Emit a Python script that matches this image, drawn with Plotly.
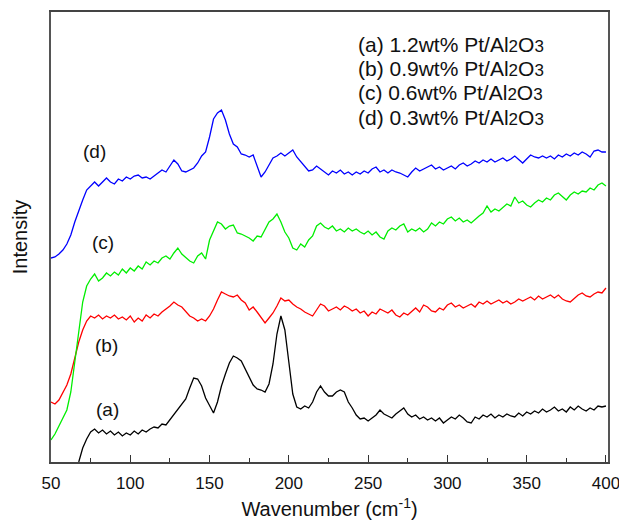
import numpy as np
import plotly.graph_objects as go

# Wavenumber sampling grid (cm^-1)
wavenumber = np.arange(50, 400.01, 2.5)

# (a) 1.2wt% Pt/Al2O3 - black
intensity_a = [-80, -70, -60, -48, -35, -22, -10, 0, 14, 23,
               30, 33, 29, 32, 28, 31, 27, 30, 26, 29,
               27, 31, 28, 32, 30, 33, 35, 34, 38, 37,
               42, 48, 52, 58, 63, 74, 84, 83, 76, 64,
               56, 49, 60, 76, 88, 99, 106, 104, 101, 93,
               85, 77, 73, 72, 70, 78, 98, 128, 146, 132,
               100, 68, 55, 53, 56, 54, 60, 70, 76, 70,
               66, 66, 70, 72, 70, 60, 54, 47, 43, 44,
               41, 44, 47, 52, 48, 46, 44, 48, 51, 54,
               48, 45, 47, 43, 45, 42, 44, 41, 44, 39,
               42, 45, 43, 47, 44, 40, 39, 45, 43, 47,
               45, 48, 44, 47, 45, 48, 46, 45, 49, 46,
               50, 48, 51, 49, 53, 50, 52, 55, 51, 53,
               50, 55, 52, 56, 53, 51, 54, 52, 56, 55, 56]

# (b) 0.9wt% Pt/Al2O3 - red
intensity_b = [60, 58, 62, 70, 77, 88, 104, 120, 132, 141,
               146, 144, 147, 143, 146, 144, 147, 143, 145, 142,
               146, 140, 144, 141, 147, 144, 148, 146, 150, 153,
               156, 160, 157, 155, 150, 146, 144, 141, 143, 141,
               146, 153, 162, 170, 168, 166, 165, 167, 162, 159,
               152, 155, 150, 145, 139, 144, 149, 156, 164, 161,
               162, 158, 155, 153, 150, 148, 146, 152, 158, 156,
               151, 153, 155, 152, 156, 154, 151, 153, 149, 151,
               146, 150, 148, 153, 151, 149, 152, 147, 145, 149,
               147, 151, 154, 150, 157, 155, 151, 150, 154, 152,
               157, 159, 155, 157, 154, 156, 158, 155, 160, 158,
               161, 158, 160, 162, 159, 161, 158, 160, 163, 161,
               163, 165, 162, 166, 163, 165, 167, 164, 167, 163,
               161, 160, 164, 167, 169, 166, 165, 168, 170, 169, 174]

# (c) 0.6wt% Pt/Al2O3 - green
intensity_c = [22, 28, 36, 44, 52, 70, 100, 132, 160, 176,
               183, 188, 181, 184, 189, 186, 190, 187, 193, 189,
               194, 191, 196, 193, 200, 197, 201, 199, 204, 206,
               203, 209, 214, 208, 204, 201, 199, 206, 209, 203,
               222, 232, 240, 238, 233, 236, 237, 229, 228, 226,
               224, 221, 226, 225, 232, 240, 243, 248, 240, 230,
               224, 214, 212, 218, 215, 222, 226, 236, 239, 235,
               233, 236, 231, 233, 230, 234, 231, 233, 230, 228,
               231, 227, 230, 225, 223, 231, 234, 232, 236, 238,
               230, 233, 231, 234, 230, 233, 239, 236, 240, 238,
               243, 245, 241, 244, 240, 242, 239, 243, 246, 249,
               256, 250, 253, 251, 255, 258, 256, 265, 259, 261,
               257, 255, 259, 262, 260, 264, 262, 267, 269, 265,
               262, 267, 270, 268, 271, 270, 274, 272, 277, 279, 276]

# (d) 0.3wt% Pt/Al2O3 - blue
intensity_d = [204, 205, 208, 212, 218, 227, 240, 252, 262, 272,
               276, 280, 276, 280, 284, 280, 278, 283, 281, 285,
               283, 286, 287, 284, 285, 283, 286, 289, 292, 290,
               296, 302, 298, 291, 290, 292, 294, 299, 306, 310,
               325, 343, 349, 352, 342, 328, 318, 315, 308, 307,
               305, 307, 296, 285, 290, 297, 304, 306, 309, 306,
               309, 312, 305, 300, 296, 291, 292, 296, 293, 290,
               287, 291, 289, 292, 288, 290, 287, 290, 288, 291,
               289, 293, 295, 290, 292, 289, 292, 290, 289, 287,
               285, 290, 294, 291, 293, 295, 297, 293, 295, 292,
               294, 296, 293, 297, 299, 296, 298, 301, 299, 302,
               300, 303, 300, 302, 304, 301, 303, 306, 302, 299,
               303, 307, 305, 304, 306, 304, 306, 303, 307, 305,
               308, 306, 309, 307, 310, 308, 305, 311, 312, 310, 310]

series_names = ["(a) 1.2wt% Pt/Al2O3", "(b) 0.9wt% Pt/Al2O3",
                "(c) 0.6wt% Pt/Al2O3", "(d) 0.3wt% Pt/Al2O3"]
series_colors = ["#000000", "#ff0000", "#00ee00", "#0000ff"]
curve_labels = ["(a)", "(b)", "(c)", "(d)"]
curve_label_x = [85.4, 84.7, 82.8, 77.2]
curve_label_y = [52.5, 116.5, 220, 310.5]
legend_labels = ["(a) 1.2wt% Pt/Al", "(b) 0.9wt% Pt/Al",
                 "(c) 0.6wt% Pt/Al", "(d) 0.3wt% Pt/Al"]
legend_y = [418, 394, 370, 345]

FONT = "Liberation Sans, Arial, sans-serif"

fig = go.Figure()
for ys, name, col in zip([intensity_a, intensity_b, intensity_c, intensity_d],
                         series_names, series_colors):
    fig.add_trace(go.Scatter(x=wavenumber, y=ys, mode="lines", name=name,
                             line=dict(color=col, width=1.3),
                             showlegend=False))

sub = "<span style='font-size:17px'>{}</span>"
for lab, ly in zip(legend_labels, legend_y):
    fig.add_annotation(x=242.5, y=ly, xref="x", yref="y",
                       text=lab + sub.format("2") + "O" + sub.format("3"),
                       showarrow=False, xanchor="left", yanchor="middle",
                       font=dict(family=FONT, size=21, color="#111"))

for lab, lx, ly in zip(curve_labels, curve_label_x, curve_label_y):
    fig.add_annotation(x=lx, y=ly, xref="x", yref="y", text=lab,
                       showarrow=False, xanchor="center", yanchor="middle",
                       font=dict(family=FONT, size=19, color="#111"))

fig.update_layout(
    width=619, height=526,
    margin=dict(l=51, r=11, t=12, b=64, autoexpand=False),
    paper_bgcolor="white", plot_bgcolor="white",
    font=dict(family=FONT, size=17, color="#111"),
    xaxis=dict(range=[50, 401.3], tickmode="linear", tick0=50, dtick=50,
               automargin=False, ticklabeloverflow="allow",
               ticklabelstandoff=5,
               ticks="inside", ticklen=7, tickwidth=1.3, tickcolor="#333",
               minor=dict(ticks="inside", ticklen=4, dtick=25, tick0=50,
                          tickcolor="#333", tickwidth=1.2),
               showline=True, linecolor="#444", linewidth=2, mirror=True,
               showgrid=False, zeroline=False,
               tickfont=dict(family=FONT, size=17, color="#111"),
               title=dict(text="Wavenumber (cm<sup>-1</sup>)", standoff=10,
                          font=dict(family=FONT, size=20, color="#111"))),
    yaxis=dict(range=[0, 450], showticklabels=False, ticks="",
               automargin=False,
               showline=True, linecolor="#555", linewidth=2, mirror=True,
               showgrid=False, zeroline=False,
               title=dict(text="Intensity", standoff=16,
                          font=dict(family=FONT, size=20, color="#111"))),
)

fig.write_html("out.html", config={"displayModeBar": False},
               post_script="document.body.style.margin='0px';")
